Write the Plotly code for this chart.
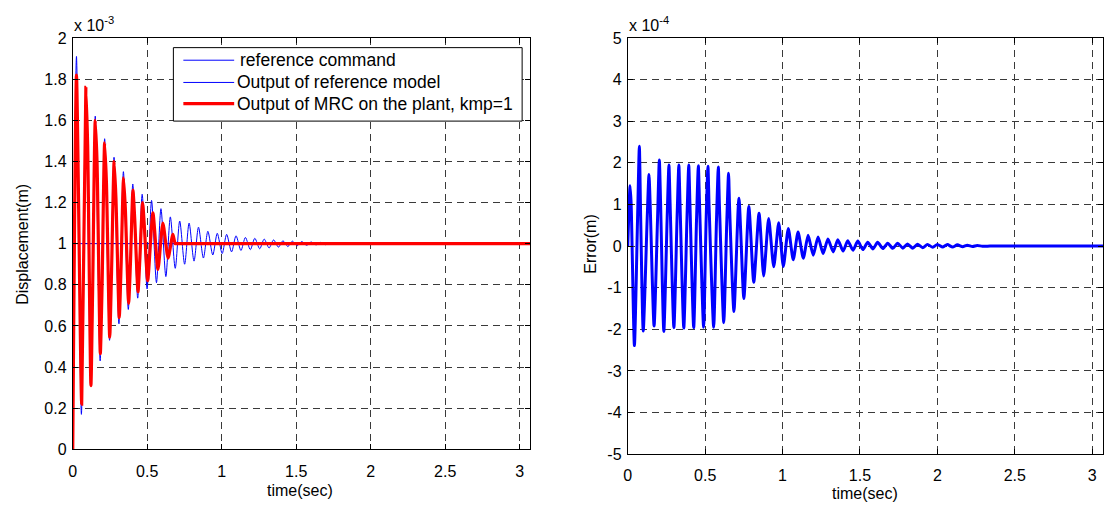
import plotly.graph_objects as go

W, H = 1114, 511

# ---------------- left panel data (values in units of 1e-3 m) ----------------
ref_cmd_t = [0.0, 0.0, 3.07]
ref_cmd_v = [0.0, 1.0, 1.0]

model_peak_t = [0.025, 0.088, 0.151, 0.214, 0.277, 0.340, 0.403, 0.466, 0.529, 0.592,
                0.655, 0.718, 0.781, 0.844, 0.907, 0.970, 1.033, 1.096, 1.159, 1.222,
                1.285, 1.348, 1.411, 1.474, 1.537, 1.600, 1.663, 1.726, 1.789, 1.852]
model_peak_v = [1.91, 1.75, 1.62, 1.51, 1.42, 1.35, 1.29, 1.24, 1.21, 1.17,
                1.13, 1.11, 1.10, 1.08, 1.06, 1.05, 1.045, 1.038, 1.03, 1.026,
                1.022, 1.018, 1.014, 1.012, 1.010, 1.008, 1.006, 1.005, 1.003, 1.002]
model_trough_t = [0.058, 0.121, 0.184, 0.247, 0.310, 0.373, 0.436, 0.499, 0.562, 0.625,
                  0.688, 0.751, 0.814, 0.877, 0.940, 1.003, 1.066, 1.129, 1.192, 1.255,
                  1.318, 1.381, 1.444, 1.507, 1.570, 1.633, 1.696, 1.759, 1.822, 1.885]
model_trough_v = [0.17, 0.33, 0.43, 0.53, 0.61, 0.68, 0.735, 0.78, 0.81, 0.84,
                  0.88, 0.90, 0.915, 0.93, 0.945, 0.952, 0.96, 0.967, 0.971, 0.975,
                  0.979, 0.983, 0.986, 0.990, 0.992, 0.994, 0.995, 0.997, 0.998, 0.999]
model_ends_t = [0.0, 1.92, 1.96, 3.0, 3.07]
model_ends_v = [0.0, 1.0, 1.0, 1.0, 1.0]

mrc_peak_t = [0.025, 0.088, 0.151, 0.214, 0.278, 0.341, 0.404, 0.469, 0.538, 0.605, 0.672]
mrc_peak_v = [1.82, 1.76, 1.60, 1.49, 1.40, 1.32, 1.26, 1.20, 1.15, 1.10, 1.045]
mrc_trough_t = [0.060, 0.122, 0.185, 0.248, 0.312, 0.375, 0.438, 0.503, 0.572, 0.640]
mrc_trough_v = [0.22, 0.31, 0.465, 0.545, 0.64, 0.71, 0.765, 0.82, 0.875, 0.93]
mrc_shoulder_t = [0.100, 0.163, 0.226, 0.290, 0.353, 0.416, 0.481,
                  0.134, 0.197, 0.260, 0.324, 0.387, 0.450]
mrc_shoulder_v = [1.48, 1.40, 1.30, 1.22, 1.17, 1.12, 1.08,
                  0.80, 0.80, 0.85, 0.88, 0.90, 0.92]
mrc_ends_t = [0.0, 0.688, 0.70, 0.72, 3.0, 3.07]
mrc_ends_v = [0.0, 1.0, 1.0, 1.0, 1.0, 1.0]

# ---------------- right panel data (values in units of 1e-4 m) ----------------
err_peak_t = [0.015, 0.075, 0.137, 0.204, 0.266, 0.330, 0.394, 0.456, 0.518, 0.585,
              0.651, 0.718, 0.782, 0.848, 0.910, 0.975, 1.037, 1.100, 1.165, 1.229,
              1.293, 1.357, 1.421, 1.486, 1.550, 1.614, 1.679, 1.743, 1.807, 1.871,
              1.936, 2.000, 2.064, 2.129, 2.193, 2.257]
err_peak_v = [1.45, 2.40, 1.72, 2.07, 1.95, 1.95, 1.95, 1.93, 1.92, 1.90,
              1.75, 1.15, 0.95, 0.79, 0.66, 0.56, 0.42, 0.34, 0.26, 0.22,
              0.17, 0.15, 0.13, 0.12, 0.09, 0.09, 0.07, 0.07, 0.05, 0.045,
              0.04, 0.04, 0.035, 0.03, 0.02, 0.015]
err_trough_t = [0.043, 0.100, 0.170, 0.233, 0.298, 0.362, 0.426, 0.490, 0.555, 0.620,
                0.686, 0.750, 0.814, 0.878, 0.943, 1.005, 1.069, 1.134, 1.198, 1.262,
                1.327, 1.391, 1.455, 1.519, 1.584, 1.648, 1.712, 1.777, 1.841, 1.905,
                1.970, 2.034, 2.098, 2.163, 2.227, 2.291]
err_trough_v = [-2.39, -2.04, -1.92, -2.05, -1.96, -1.97, -1.96, -1.95, -1.95, -1.84,
                -1.57, -1.26, -0.87, -0.72, -0.50, -0.49, -0.33, -0.29, -0.22, -0.18,
                -0.14, -0.12, -0.10, -0.085, -0.07, -0.06, -0.055, -0.05, -0.05, -0.04,
                -0.03, -0.025, -0.025, -0.015, -0.01, -0.005]
err_knee_t = [0.022, 0.082, 0.144, 0.211, 0.273, 0.337, 0.401, 0.463, 0.525, 0.592, 0.658,
              0.063, 0.125, 0.192, 0.254, 0.318, 0.382, 0.444, 0.506, 0.573, 0.639]
err_knee_v = [1.0, 1.0, 1.1, 1.2, 1.1, 1.1, 1.1, 1.1, 1.0, 1.0, 0.9,
              0.6, 0.6, 0.6, 0.6, 0.6, 0.6, 0.6, 0.6, 0.6, 0.5]
err_ends_t = [0.0, 2.34, 2.40, 3.0, 3.07]
err_ends_v = [0.0, 0.0, 0.0, 0.0, 0.0]

series_names = ["reference command", "Output of reference model",
                "Output of MRC on the plant, kmp=1"]

x_ticks = [0, 0.5, 1, 1.5, 2, 2.5, 3]
x_tick_text = ["0", "0.5", "1", "1.5", "2", "2.5", "3"]
disp_ticks = [0, 0.2, 0.4, 0.6, 0.8, 1.0, 1.2, 1.4, 1.6, 1.8, 2.0]
disp_tick_text = ["0", "0.2", "0.4", "0.6", "0.8", "1", "1.2", "1.4", "1.6", "1.8", "2"]
err_ticks = [-5, -4, -3, -2, -1, 0, 1, 2, 3, 4, 5]
err_tick_text = ["-5", "-4", "-3", "-2", "-1", "0", "1", "2", "3", "4", "5"]


def merge(*pairs):
    pts = []
    for ts, vs in pairs:
        pts.extend(zip(ts, vs))
    pts.sort(key=lambda p: p[0])
    return [p[0] for p in pts], [p[1] for p in pts]


model_t, model_v = merge((model_peak_t, model_peak_v), (model_trough_t, model_trough_v),
                         (model_ends_t, model_ends_v))
mrc_t, mrc_v = merge((mrc_peak_t, mrc_peak_v), (mrc_trough_t, mrc_trough_v),
                     (mrc_shoulder_t, mrc_shoulder_v), (mrc_ends_t, mrc_ends_v))
err_t, err_v = merge((err_peak_t, err_peak_v), (err_trough_t, err_trough_v),
                     (err_knee_t, err_knee_v), (err_ends_t, err_ends_v))

FONT = "Liberation Sans, Arial, sans-serif"
BLUE = "#0000ff"
RED = "#ff0000"
series_styles = [dict(color=BLUE, width=1), dict(color=BLUE, width=1),
                 dict(color=RED, width=3.2)]

fig = go.Figure()
fig.add_trace(go.Scatter(x=ref_cmd_t, y=ref_cmd_v, mode="lines", name=series_names[0],
                         line=series_styles[0], xaxis="x", yaxis="y", showlegend=False))
fig.add_trace(go.Scatter(x=model_t, y=model_v, mode="lines", name=series_names[1],
                         line=dict(shape="spline", smoothing=0.8, **series_styles[1]),
                         xaxis="x", yaxis="y", showlegend=False))
fig.add_trace(go.Scatter(x=mrc_t, y=mrc_v, mode="lines", name=series_names[2],
                         line=dict(shape="spline", smoothing=0.6, **series_styles[2]),
                         xaxis="x", yaxis="y", showlegend=False))
fig.add_trace(go.Scatter(x=err_t, y=err_v, mode="lines", name="Error", showlegend=False,
                         line=dict(color=BLUE, width=3, shape="spline", smoothing=0.6),
                         xaxis="x2", yaxis="y2"))

axis_common = dict(showline=True, linecolor="black", linewidth=1, mirror="allticks",
                   ticks="inside", ticklen=5, tickcolor="black",
                   showgrid=True, gridcolor="#3a3a3a", gridwidth=1, griddash="7px,5px",
                   zeroline=False, tickfont=dict(family=FONT, size=16, color="black"))

# legend box drawn in pixel positions (converted to paper fractions)
LEG_L, LEG_R, LEG_T, LEG_B = 170, 520, 41, 117
LEG_ROWS = [54, 77, 99]
LEG_TEXT_X = [235, 232, 232]
shapes = [dict(type="rect", xref="paper", yref="paper",
               x0=LEG_L / W, x1=LEG_R / W, y0=1 - LEG_B / H, y1=1 - LEG_T / H,
               line=dict(color="black", width=1), fillcolor="white", layer="above")]
annotations = []
for name, style, row, tx in zip(series_names, series_styles, LEG_ROWS, LEG_TEXT_X):
    shapes.append(dict(type="line", xref="paper", yref="paper",
                       x0=180 / W, x1=231 / W, y0=1 - row / H, y1=1 - row / H,
                       line=dict(color=style["color"], width=style["width"]), layer="above"))
    annotations.append(dict(text=name, x=tx / W, y=1 - row / H, xref="paper", yref="paper",
                            xanchor="left", yanchor="middle", showarrow=False,
                            font=dict(family=FONT, size=17.5, color="black")))

annotations += [
    dict(text="x 10<sup>-3</sup>", x=68 / W, y=1 - 4 / H, xref="paper", yref="paper",
         xanchor="left", yanchor="top", showarrow=False, font=dict(family=FONT, size=16)),
    dict(text="x 10<sup>-4</sup>", x=625 / W, y=1 - 4 / H, xref="paper", yref="paper",
         xanchor="left", yanchor="top", showarrow=False, font=dict(family=FONT, size=16)),
    dict(text="time(sec)", x=297 / W, y=1 - 499 / H, xref="paper", yref="paper",
         xanchor="center", yanchor="middle", showarrow=False, font=dict(family=FONT, size=16)),
    dict(text="time(sec)", x=864 / W, y=1 - 502 / H, xref="paper", yref="paper",
         xanchor="center", yanchor="middle", showarrow=False, font=dict(family=FONT, size=16)),
    dict(text="Displacement(m)", x=19 / W, y=1 - 244 / H, xref="paper", yref="paper",
         xanchor="center", yanchor="middle", showarrow=False, textangle=-90,
         font=dict(family=FONT, size=16)),
    dict(text="Error(m)", x=589 / W, y=1 - 244 / H, xref="paper", yref="paper",
         xanchor="center", yanchor="middle", showarrow=False, textangle=-90,
         font=dict(family=FONT, size=16)),
]

fig.update_layout(
    width=W, height=H,
    margin=dict(l=0, r=0, t=0, b=0),
    paper_bgcolor="white", plot_bgcolor="white",
    font=dict(family=FONT, size=16, color="black"),
    showlegend=False,
    xaxis=dict(domain=[69 / W, 528 / W], range=[0, 3.07], tickvals=x_ticks,
               ticktext=x_tick_text, anchor="y", ticklabelstandoff=7, **axis_common),
    yaxis=dict(domain=[1 - 456.5 / H, 1 - 31 / H], range=[0, 2], tickvals=disp_ticks,
               ticktext=disp_tick_text, anchor="x", ticklabelstandoff=2, **axis_common),
    xaxis2=dict(domain=[626 / W, 1103 / W], range=[0, 3.07], tickvals=x_ticks,
                ticktext=x_tick_text, anchor="y2", ticklabelstandoff=7, **axis_common),
    yaxis2=dict(domain=[1 - 461.5 / H, 1 - 31 / H], range=[-5, 5], tickvals=err_ticks,
                ticktext=err_tick_text, anchor="x2", ticklabelstandoff=2, **axis_common),
    shapes=shapes,
    annotations=annotations,
)

fig.write_html("out.html")
